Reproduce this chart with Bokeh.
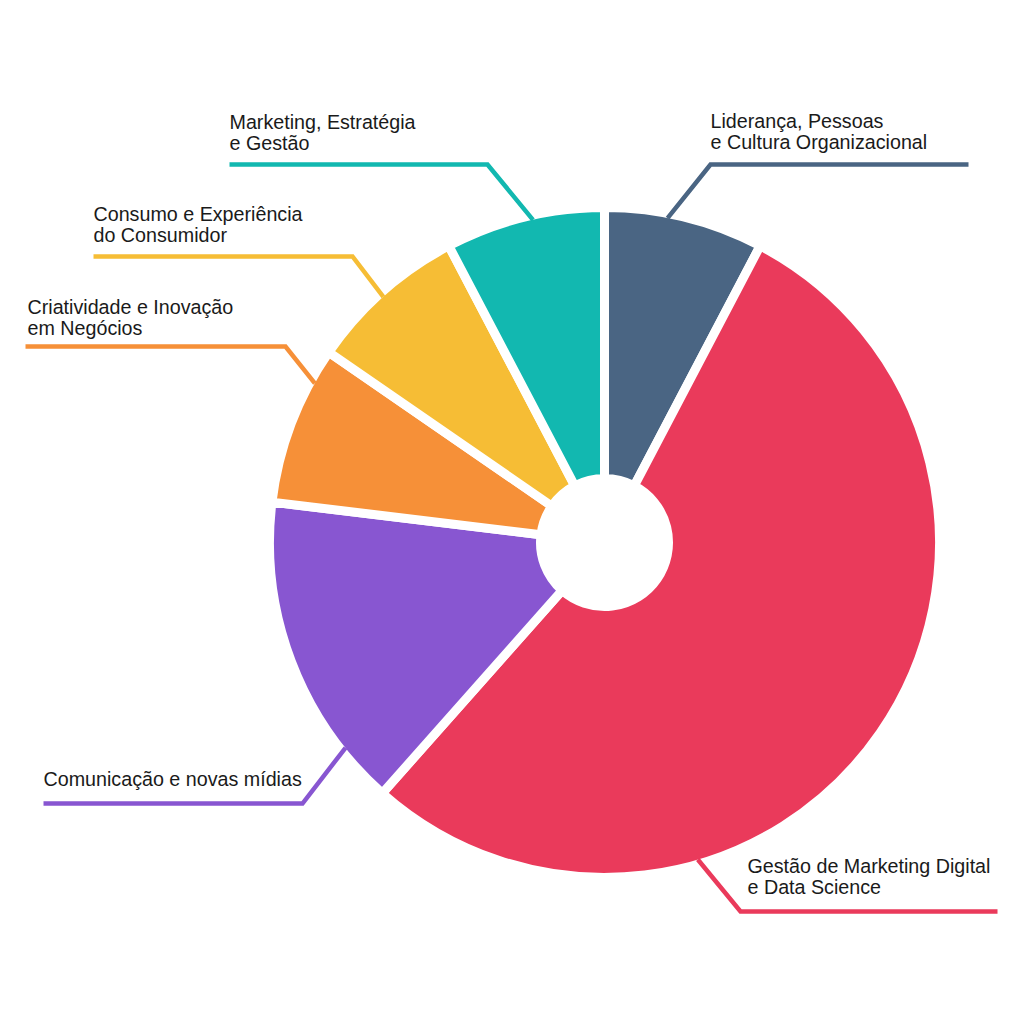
import math
from bokeh.plotting import figure
from bokeh.models import Range1d, ColumnDataSource
from bokeh.embed import file_html
from bokeh.resources import INLINE
from bokeh.core.properties import value

# ---- data ----
categories = [
    "Liderança, Pessoas\ne Cultura Organizacional",
    "Gestão de Marketing Digital\ne Data Science",
    "Comunicação e novas mídias",
    "Criatividade e Inovação\nem Negócios",
    "Consumo e Experiência\ndo Consumidor",
    "Marketing, Estratégia\ne Gestão",
]
values = [1, 7, 2, 1, 1, 1]
colors = ["#4a6583", "#ea3a5b", "#8856d1", "#f69038", "#f6bd35", "#12b8b0"]

# ---- layout (image pixel coordinates; y measured from top) ----
CX, CY = 604, 542
R_OUT, R_IN = 335, 64
GAP = 9
# leader line: touching angle (deg clockwise from top), elbow x, elbow y, far x
leader_angle = [11, 163.6, 231.6, 298.8, 318, 347.5]
elbow_x = [710, 740, 302, 285, 352, 487]
elbow_y = [164, 911, 803, 346, 256, 164]
far_x = [968, 997, 43, 25, 93, 229]
label_x = [710, 747, 43, 27, 93, 229]
label_y = [120, 865, 778, 306, 213, 121]
LINE_STEP = 21

p = figure(width=1008, height=1008, output_backend="svg", toolbar_location=None,
           x_range=Range1d(0, 1008), y_range=Range1d(-1008, 0), min_border=0)
p.axis.visible = False
p.grid.visible = False
p.outline_line_color = None
p.background_fill_color = "white"
p.border_fill_color = "white"

total = sum(values)
starts, ends = [], []
acc = 0.0
for v in values:
    a0 = acc / total * 2 * math.pi
    acc += v
    a1 = acc / total * 2 * math.pi
    starts.append(math.pi / 2 - a0)
    ends.append(math.pi / 2 - a1)

src = ColumnDataSource(dict(start=starts, end=ends, color=colors))
p.annular_wedge(x=CX, y=-CY, inner_radius=R_IN, outer_radius=R_OUT,
                start_angle="start", end_angle="end", direction="clock",
                fill_color="color", line_color="white", line_width=GAP, source=src)

# leader lines
r_vis = R_OUT - GAP / 2
for i in range(len(values)):
    a = math.radians(leader_angle[i])
    px = CX + r_vis * math.sin(a)
    py = CY - r_vis * math.cos(a)
    xs = [px, elbow_x[i], far_x[i]]
    ys = [-py, -elbow_y[i], -elbow_y[i]]
    p.line(xs, ys, line_color=colors[i], line_width=4.5, line_join="miter")

# labels
tx, ty, tt = [], [], []
for i, lab in enumerate(categories):
    for j, line in enumerate(lab.split("\n")):
        tx.append(label_x[i])
        ty.append(-(label_y[i] + j * LINE_STEP))
        tt.append(line)
p.text(x=tx, y=ty, text=tt, text_font=value("Liberation Sans"), text_font_size="19.7px",
       text_color="#1a1a1a", text_baseline="alphabetic", text_align="left")

open("out.html", "w").write(file_html(p, INLINE))
